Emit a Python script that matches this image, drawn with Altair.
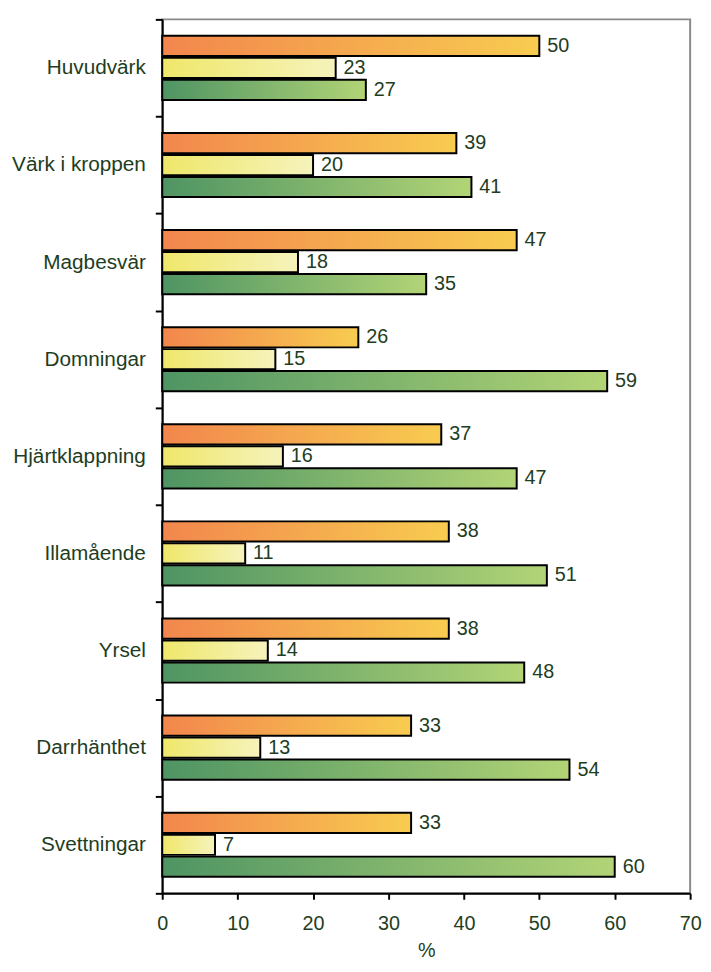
import altair as alt
import pandas as pd

categories = ["Huvudvärk", "Värk i kroppen", "Magbesvär", "Domningar", "Hjärtklappning",
              "Illamående", "Yrsel", "Darrhänthet", "Svettningar"]
series = ["Serie 1", "Serie 2", "Serie 3"]
serie1 = [50, 39, 47, 26, 37, 38, 38, 33, 33]
serie2 = [23, 20, 18, 15, 16, 11, 14, 13, 7]
serie3 = [27, 41, 35, 59, 47, 51, 48, 54, 60]
x_ticks = [0, 10, 20, 30, 40, 50, 60, 70]

rows = []
for s, vals in zip(series, [serie1, serie2, serie3]):
    for c, v in zip(categories, vals):
        rows.append({"symptom": c, "serie": s, "value": v})
df = pd.DataFrame(rows)

gradients = {
    "Serie 1": {"gradient": "linear", "x1": 0, "y1": 0, "x2": 1, "y2": 0,
                "stops": [{"offset": 0, "color": "#f2864d"}, {"offset": 1, "color": "#f8cc50"}]},
    "Serie 2": {"gradient": "linear", "x1": 0, "y1": 0, "x2": 1, "y2": 0,
                "stops": [{"offset": 0, "color": "#efe76a"}, {"offset": 1, "color": "#f6f3bc"}]},
    "Serie 3": {"gradient": "linear", "x1": 0, "y1": 0, "x2": 1, "y2": 0,
                "stops": [{"offset": 0, "color": "#4e9463"}, {"offset": 1, "color": "#b2d476"}]},
}

TXT = "#1e3d22"
FONT = "Liberation Sans"

base = alt.Chart(df).encode(
    y=alt.Y("symptom:N", sort=categories,
            scale=alt.Scale(paddingInner=0, paddingOuter=0),
            axis=alt.Axis(title=None, labelFontSize=21, labelColor=TXT, labelFont=FONT,
                          labelPadding=10, tickSize=7, tickWidth=2, tickColor="black",
                          domainColor="black", domainWidth=2, tickBand="extent",
                          labelLimit=300)),
    yOffset=alt.YOffset("serie:N", sort=series,
                        scale=alt.Scale(domain=series, paddingInner=0.08, paddingOuter=0.75)),
    x=alt.X("value:Q", scale=alt.Scale(domain=[0, 70], nice=False),
            axis=alt.Axis(title="%", values=x_ticks, grid=False, labelFontSize=20,
                          labelColor=TXT, labelFont=FONT, labelPadding=15, tickSize=6,
                          labelFlush=False,
                          tickWidth=2, tickColor="black", domainColor="black", domainWidth=2,
                          titleFontSize=20, titleColor=TXT, titleFont=FONT,
                          titleFontWeight="normal", titlePadding=7)),
)

layers = []
for s in series:
    layers.append(
        base.transform_filter(alt.datum.serie == s)
        .mark_bar(fill=gradients[s], stroke="black", strokeWidth=2)
    )
layers.append(
    base.mark_text(align="left", baseline="middle", dx=8, fontSize=20, color=TXT, font=FONT)
    .encode(text="value:Q")
)

chart = alt.layer(*layers).properties(
    width=534, height=884,
    autosize=alt.AutoSizeParams(type="none"),
    padding={"left": 156, "top": 6, "right": 13, "bottom": 66},
).configure_view(stroke="#8a8a8a", strokeWidth=2)

chart.save("out.html", embed_options={"renderer": "svg", "actions": False})
